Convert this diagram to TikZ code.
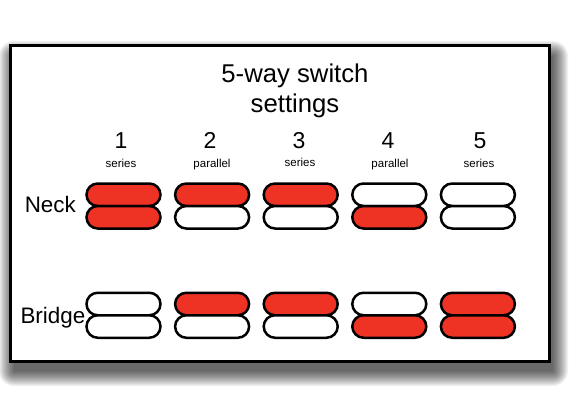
\documentclass[tikz,border=0pt]{standalone}
\usepackage{fontspec}
\setmainfont{Liberation Sans}
\usetikzlibrary{calc}
\definecolor{pillred}{RGB}{238,50,36}
\tikzset{
  pill/.style={draw=black, line width=2.5pt, rounded corners=11.25pt,
    minimum width=74pt, minimum height=22.5pt, inner sep=0pt, outer sep=0pt},
  on/.style={pill, fill=pillred},
  off/.style={pill, fill=white},
  numlbl/.style={font=\fontsize{23}{26}\selectfont, anchor=base, inner sep=0pt},
  modelbl/.style={font=\fontsize{11.5}{13}\selectfont, anchor=base, inner sep=0pt},
  rowlbl/.style={font=\fontsize{22.4}{26}\selectfont, anchor=base east, inner sep=0pt},
  titlelbl/.style={font=\fontsize{25.7}{30}\selectfont, anchor=base, inner sep=0pt},
}
\begin{document}
\begin{tikzpicture}[x=1pt,y=-1pt]
\useasboundingbox (0,0) rectangle (586,410);
\fill[white] (0,0) rectangle (586,410);
% blurred drop shadow
\foreach \r in {0,1,...,15}{
  \fill[black, opacity=0.05, rounded corners=\r pt] ($(14,56)+(-\r,-\r)$) rectangle ($(553,371)+(\r,\r)$);
}
% main frame
\node[draw=black, line width=3pt, fill=white, minimum width=539pt, minimum height=315.5pt,
  inner sep=0pt] (frame) at (279.5,203.25) {};
% title
\node[titlelbl] (t1) at (295,82) {5-way switch};
\node[titlelbl] (t2) at (295,112) {settings};
% column headers
\node[numlbl] (h1) at (121,148) {1};
\node[numlbl] (h2) at (210,148) {2};
\node[numlbl] (h3) at (299,148) {3};
\node[numlbl] (h4) at (388,148) {4};
\node[numlbl] (h5) at (480,148) {5};
\node[modelbl] (m1) at (121,167) {series};
\node[modelbl] (m2) at (212,167) {parallel};
\node[modelbl] (m3) at (300,166) {series};
\node[modelbl] (m4) at (390,167) {parallel};
\node[modelbl] (m5) at (479,167) {series};
% row labels
\node[rowlbl] (neck) at (76,212) {Neck};
\node[rowlbl] (bridge) at (85.5,323) {Bridge};
% neck pills
\node[on]  (n1a) at (123.5,194.75) {};
\node[on]  (n1b) at (123.5,217.25) {};
\node[on]  (n2a) at (212.1,194.75) {};
\node[off] (n2b) at (212.1,217.25) {};
\node[on]  (n3a) at (300.7,194.75) {};
\node[off] (n3b) at (300.7,217.25) {};
\node[off] (n4a) at (389.3,194.75) {};
\node[on]  (n4b) at (389.3,217.25) {};
\node[off] (n5a) at (477.9,194.75) {};
\node[off] (n5b) at (477.9,217.25) {};
% bridge pills
\node[off] (b1a) at (123.5,304) {};
\node[off] (b1b) at (123.5,326.5) {};
\node[on]  (b2a) at (212.1,304) {};
\node[off] (b2b) at (212.1,326.5) {};
\node[on]  (b3a) at (300.7,304) {};
\node[off] (b3b) at (300.7,326.5) {};
\node[off] (b4a) at (389.3,304) {};
\node[on]  (b4b) at (389.3,326.5) {};
\node[on]  (b5a) at (477.9,304) {};
\node[on]  (b5b) at (477.9,326.5) {};
\end{tikzpicture}
\end{document}
